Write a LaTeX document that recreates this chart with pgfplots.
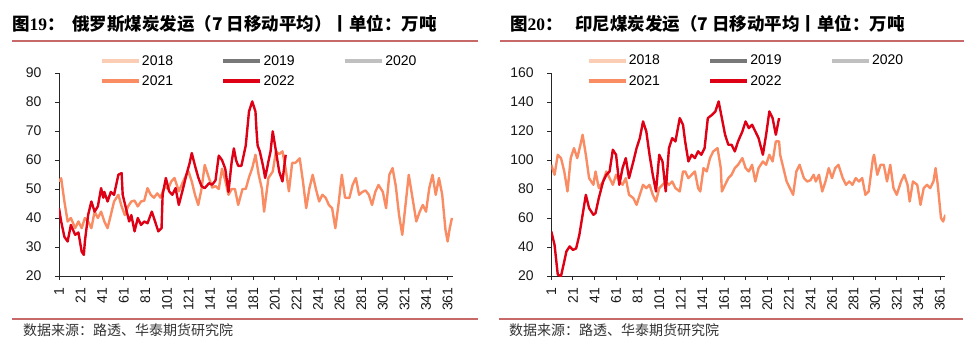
\documentclass[border=0pt]{standalone}
\usepackage{fontspec}
\usepackage{pgfplots}
\pgfplotsset{compat=1.18}
\setmainfont{Liberation Sans}
\newfontfamily\cjk{Noto Sans CJK SC}
\newfontfamily\serifb{Liberation Serif}
\definecolor{c18}{RGB}{250,205,180}
\definecolor{c19}{RGB}{120,120,120}
\definecolor{c20}{RGB}{192,192,192}
\definecolor{c21}{RGB}{250,140,100}
\definecolor{c22}{RGB}{222,0,20}
\definecolor{sepc}{RGB}{200,105,105}

\pgfplotstableread{
x y
1 43.4
3 38.8
6 33.5
9 31.9
12 37.6
16 34.2
19 35
22 28.4
24 27.3
25 32
28 41.1
31 45.7
34 42.2
37 44
40 50.3
42 47
43 49
46 45.7
49 49
52 48
56 54.9
59 55.5
60 48
63 43.4
66 38.8
68 41
71 35.4
74 40
77 37.6
80 38.8
83 38.2
87 42.2
90 38.8
93 35.4
96 36.5
97 48
100 53.8
103 49.2
106 48
109 50.3
112 44.5
116 50.3
119 54.9
122 58.9
124 62.4
127 58
130 54
133 51
136 50.3
140 52
143 51.5
146 53
149 61.5
152 60
155 57
158 49
161 59.5
163 64
165 60
167 58
170 58
174 65
177 76.7
180 80.2
183 76.7
184 70
185 65
187 63
190 58
192 53.8
195 59.5
197 63
199 69.9
202 63
205 56
208 52.6
211 61.8
}\rusTwoTwo

\pgfplotstableread{
x y
1 52.6
3 53.7
6 45.7
9 38.8
12 40
16 36.5
19 38.8
22 36.5
25 40
28 38.8
31 36.5
34 42.2
37 40
40 42.2
43 38.8
46 36.5
49 41
52 45.7
56 48
59 44
62 41
65 44
68 45.7
71 46
74 44
77 45.7
80 46
83 50.3
86 48
89 47
92 48.5
95 47
99 51
102 50
105 52.6
108 53.8
112 49.2
116 52.6
119 54.9
121 56
124 52.6
127 48
130 44.5
133 50
136 58.3
140 53.7
143 50.5
146 51
149 50
152 57
155 53
158 48
161 50
164 50
167 44.5
171 50
174 50
177 54
180 57.2
183 61.8
186 54.9
189 50
191 42.2
195 53.8
199 56
202 63
205 62
208 63
211 57
214 49.2
217 59
220 59
224 60.6
227 52.6
230 43.4
233 50.3
236 54.9
239 50
242 45.7
245 48
248 47
251 44.5
254 43.4
257 36.5
260 45
263 54.9
266 47
270 46.9
273 51.4
276 53.8
279 48
282 49
285 49.5
288 48
291 44.5
294 49
297 51.4
301 49
304 43.4
307 54.9
310 57.2
313 51
316 41.1
319 34.2
322 44.5
325 54.9
328 48
332 38.8
335 42
338 44.5
341 42.2
344 50.3
347 54.9
350 48
353 53.8
356 48
359 36
361 31.9
363 36.5
365 40
}\rusTwoOne

\pgfplotstableread{
x y
1 50.7
4 41.5
7 20.9
10 20
13 30
15 37
18 40.4
21 38
24 39
27 48.4
30 62.2
33 76
36 66.8
40 62.2
42 63.4
45 73.7
49 85.2
52 89.8
55 92.1
58 107.1
61 103.6
64 82.9
67 94.4
70 101.3
73 87.5
77 99
80 108.2
83 115.1
86 126.6
89 119.7
92 103.6
95 89.8
98 78.3
101 103.6
104 99
107 78.3
110 108.2
113 115.1
116 112.8
120 128.9
123 124.3
125 112.8
128 99
131 103.6
134 101.3
137 106
140 103.6
143 108.2
146 128.9
150 131.2
153 133.5
156 140.4
159 128.9
162 117.4
165 110.5
168 110.5
171 105.9
174 112.8
178 119.7
181 126.6
184 122
187 124.3
190 119.7
193 115.1
197 103.6
200 117.4
203 133.5
206 128.9
209 117.4
212 128.9
}\indTwoTwo

\pgfplotstableread{
x y
1 96.7
4 89.8
7 103.6
10 101.3
13 92.1
16 78.3
19 101.3
22 108.2
25 101.3
28 110.5
30 117.4
33 103.6
36 87.5
40 82.9
42 92.1
45 80.6
49 85.2
52 92.1
55 87.5
58 82.9
61 89.8
64 85.2
67 82.9
70 87.5
73 76
77 73.7
80 69.1
83 76
86 82.9
89 80.6
92 82.9
95 76
98 71.4
101 80.6
104 82.9
107 85.2
110 82.9
113 85.2
116 80.6
120 78.3
123 92.1
125 92.1
128 87.5
131 89.8
134 92.1
137 80.6
139 78.3
142 94.4
145 92.1
148 101.3
151 105.9
155 108.2
158 94.4
159 78.3
162 82.9
165 87.5
168 89.8
171 94.4
174 96.7
178 101.3
181 94.4
184 92.1
187 96.7
190 85.2
193 94.4
197 99
200 96.7
203 103.6
206 99
209 112.8
212 112.8
213 103.6
216 94.4
219 85.2
222 80.6
225 76
228 92.1
231 96.7
235 87.5
238 85.2
241 86
244 89.8
246 85.2
249 89.8
252 78.3
255 85.2
258 94.4
261 87.5
264 94.4
267 96.7
271 87.5
274 82.9
277 85.2
280 82.9
283 87.5
286 85.2
289 87.5
292 76
295 78.3
299 101.3
300 103.6
303 89.8
306 96.7
309 96.7
312 85.2
315 96.7
318 80.6
321 76
325 85.2
328 89.8
331 82.9
333 71.4
336 85.2
340 82.9
343 69.1
346 80.6
349 82.9
352 80.6
355 85.2
357 94.4
359 82.9
362 59.9
364 57.6
366 62.2
}\indTwoOne

\pgfplotsset{
  panel/.style={
    scale only axis, width=394bp, height=203bp,
    xmin=1, xmax=366,
    axis x line*=bottom, axis y line*=left,
    axis line style={black!85, line width=1bp},
    xtick={1,21,...,361},
    tick align=outside, major tick length=4bp,
    tick style={black!85, line width=0.8bp},
    ticklabel style={font=\fontsize{14bp}{16bp}\selectfont, text=black!90},
    /pgf/number format/assume math mode=true,
    xticklabel style={rotate=90, anchor=east},
    xticklabel shift=4bp,
    yticklabel shift=10bp,
    legend columns=3,
    legend image code/.code={\draw[##1,line width=3.5bp] (0bp,0bp) -- (37bp,0bp);},
    legend style={draw=none, fill=none, inner sep=0pt, outer sep=0pt,
      font=\fontsize{14bp}{16bp}\selectfont, anchor=north west,
      row sep=6bp,
      nodes={inner sep=1.5bp},
      /tikz/every even column/.append style={column sep=47bp}},
    every axis plot/.append style={line width=2.4bp, line join=round},
  }
}

\begin{document}
\begin{tikzpicture}
\useasboundingbox (0,0) rectangle (974bp,-355bp);
% titles
\node[anchor=base west, inner sep=0, font=\cjk\bfseries\fontsize{17.5bp}{20bp}\selectfont] at (12bp,-30bp) {图{\serifb\bfseries 19}：};
\node[anchor=base west, inner sep=0, font=\cjk\bfseries\fontsize{17.5bp}{20bp}\selectfont] at (72bp,-30bp) {俄罗斯煤炭发运（7 日移动平均）丨单位：万吨};
\node[anchor=base west, inner sep=0, font=\cjk\bfseries\fontsize{17.5bp}{20bp}\selectfont] at (510bp,-30bp) {图{\serifb\bfseries 20}：};
\node[anchor=base west, inner sep=0, font=\cjk\bfseries\fontsize{17.5bp}{20bp}\selectfont] at (575bp,-30bp) {印尼煤炭发运（7 日移动平均丨单位：万吨};
\draw[sepc, line width=1.3bp] (12bp,-41bp) -- (478bp,-41bp);
\draw[sepc, line width=1.3bp] (500bp,-41bp) -- (964bp,-41bp);
\draw[sepc, line width=1.3bp] (12bp,-319bp) -- (478bp,-319bp);
\draw[sepc, line width=1.3bp] (499bp,-319bp) -- (963bp,-319bp);
\node[anchor=base west, inner sep=0, text=black!80, font=\cjk\fontsize{14bp}{16bp}\selectfont] at (23bp,-335bp) {数据来源：路透、华泰期货研究院};
\node[anchor=base west, inner sep=0, text=black!80, font=\cjk\fontsize{14bp}{16bp}\selectfont] at (509bp,-335bp) {数据来源：路透、华泰期货研究院};

\begin{axis}[panel, at={(59bp,-276bp)}, anchor=south west,
  ymin=20, ymax=90, ytick={20,30,...,90},
  legend style={at={(axis description cs:0.104,1.095)}}]
\addlegendimage{c18}\addlegendentry{2018}
\addlegendimage{c19}\addlegendentry{2019}
\addlegendimage{c20}\addlegendentry{2020}
\addplot[c21] table[x=x,y=y] {\rusTwoOne};\addlegendentry{2021}
\addplot[c22] table[x=x,y=y] {\rusTwoTwo};\addlegendentry{2022}
\end{axis}

\begin{axis}[panel, at={(551.3bp,-276bp)}, anchor=south west,
  ymin=20, ymax=160, ytick={20,40,...,160},
  legend style={at={(axis description cs:0.09,1.095)}}]
\addlegendimage{c18}\addlegendentry{2018}
\addlegendimage{c19}\addlegendentry{2019}
\addlegendimage{c20}\addlegendentry{2020}
\addplot[c21] table[x=x,y=y] {\indTwoOne};\addlegendentry{2021}
\addplot[c22] table[x=x,y=y] {\indTwoTwo};\addlegendentry{2022}
\end{axis}
\end{tikzpicture}
\end{document}
